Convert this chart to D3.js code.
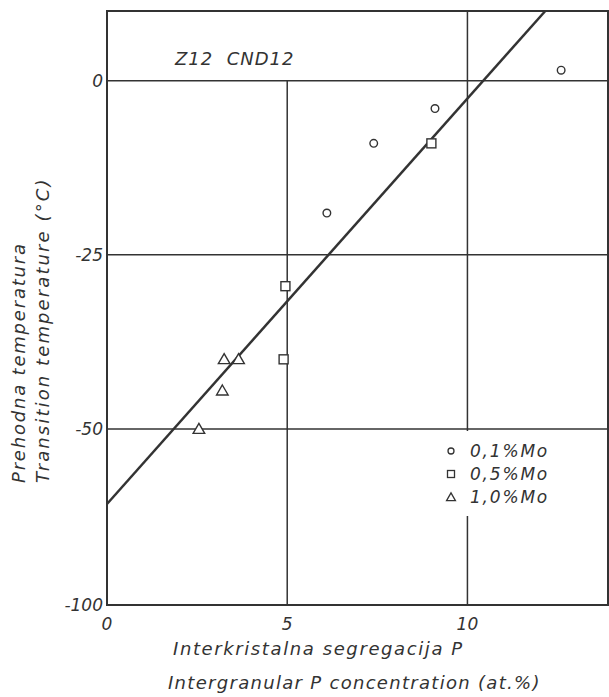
<!DOCTYPE html>
<html>
<head>
<meta charset="utf-8">
<script src="https://cdn.jsdelivr.net/npm/d3@7"></script>
<style>
  body { margin: 0; background: #fff; }
  text { font-family: "DejaVu Sans", sans-serif; font-style: italic; fill: #333; }
</style>
</head>
<body>
<script>
// data
var mo01 = [[12.6, 1.5], [9.1, -4], [7.4, -9], [6.1, -19]];
var mo05 = [[9.0, -9], [4.95, -29.5], [4.9, -40]];
var mo10 = [[3.25, -40], [3.65, -40], [3.2, -44.5], [2.55, -50]];
var fitLine = [[0, -71.3], [12.16, 10]];
var xTicks = [0, 5, 10];
var yTicks = [0, -25, -50, -100];
var legendLabels = ["0,1%Mo", "0,5%Mo", "1,0%Mo"];

var W = 609, H = 697;
var ink = "#333";

var svg = d3.select("body").append("svg")
  .attr("width", W)
  .attr("height", H);

// x: 0 at 107, 10 at 468
var xScale = d3.scaleLinear().domain([0, 13.9]).range([107, 608]);
// y axis in the figure is squeezed below -50 (-100 sits where -75 would be)
var yScale = d3.scaleLinear().domain([-100, -50, 10]).range([605, 429, 11]);

// grid
svg.selectAll("line.hgrid")
  .data([0, -25, -50])
  .enter().append("line")
  .attr("x1", xScale(0)).attr("x2", xScale(13.9))
  .attr("y1", function (d) { return yScale(d); })
  .attr("y2", function (d) { return yScale(d); })
  .attr("stroke", ink).attr("stroke-width", 1.5);

svg.append("line")
  .attr("x1", xScale(5)).attr("x2", xScale(5))
  .attr("y1", yScale(0)).attr("y2", yScale(-100))
  .attr("stroke", ink).attr("stroke-width", 1.5);

svg.append("line")
  .attr("x1", xScale(10)).attr("x2", xScale(10))
  .attr("y1", yScale(10)).attr("y2", yScale(-100))
  .attr("stroke", ink).attr("stroke-width", 1.5);

// frame
svg.append("rect")
  .attr("x", xScale(0)).attr("y", yScale(10))
  .attr("width", xScale(13.9) - xScale(0))
  .attr("height", yScale(-100) - yScale(10))
  .attr("fill", "none").attr("stroke", ink).attr("stroke-width", 2);

// tick labels
svg.selectAll("text.ytick")
  .data(yTicks)
  .enter().append("text")
  .attr("x", 103)
  .attr("y", function (d) { return yScale(d) + 6; })
  .attr("text-anchor", "end")
  .attr("font-size", 17)
  .text(function (d) { return d; });

svg.selectAll("text.xtick")
  .data(xTicks)
  .enter().append("text")
  .attr("x", function (d) { return xScale(d); })
  .attr("y", 630)
  .attr("text-anchor", "middle")
  .attr("font-size", 17)
  .text(function (d) { return d; });

// regression line
svg.append("path")
  .datum(fitLine)
  .attr("d", d3.line()
    .x(function (d) { return xScale(d[0]); })
    .y(function (d) { return yScale(d[1]); }))
  .attr("fill", "none").attr("stroke", ink).attr("stroke-width", 2.5);

// markers
var tri = d3.symbol().type(d3.symbolTriangle).size(58);

svg.selectAll("circle.m01")
  .data(mo01)
  .enter().append("circle")
  .attr("cx", function (d) { return xScale(d[0]); })
  .attr("cy", function (d) { return yScale(d[1]); })
  .attr("r", 3.8)
  .attr("fill", "#fff").attr("stroke", ink).attr("stroke-width", 1.4);

svg.selectAll("rect.m05")
  .data(mo05)
  .enter().append("rect")
  .attr("x", function (d) { return xScale(d[0]) - 4.5; })
  .attr("y", function (d) { return yScale(d[1]) - 4.5; })
  .attr("width", 9).attr("height", 9)
  .attr("fill", "#fff").attr("stroke", ink).attr("stroke-width", 1.4);

svg.selectAll("path.m10")
  .data(mo10)
  .enter().append("path")
  .attr("d", tri)
  .attr("transform", function (d) {
    return "translate(" + xScale(d[0]) + "," + (yScale(d[1]) + 1) + ")";
  })
  .attr("fill", "#fff").attr("stroke", ink).attr("stroke-width", 1.4);

// header text
svg.append("text")
  .attr("x", 175).attr("y", 65)
  .attr("font-size", 18)
  .attr("letter-spacing", 1)
  .attr("xml:space", "preserve")
  .text("Z12  CND12");

// legend (white box hides the 10 gridline behind it)
svg.append("rect")
  .attr("x", 440).attr("y", 431)
  .attr("width", 125).attr("height", 85)
  .attr("fill", "#fff");

var legend = svg.append("g");
var ly = [451, 474, 497];

legend.append("circle")
  .attr("cx", 451).attr("cy", ly[0])
  .attr("r", 3).attr("fill", "#fff").attr("stroke", ink).attr("stroke-width", 1.3);
legend.append("rect")
  .attr("x", 447.5).attr("y", ly[1] - 3.5).attr("width", 7).attr("height", 7)
  .attr("fill", "#fff").attr("stroke", ink).attr("stroke-width", 1.3);
legend.append("path")
  .attr("d", d3.symbol().type(d3.symbolTriangle).size(34))
  .attr("transform", "translate(451," + (ly[2] + 1) + ")")
  .attr("fill", "#fff").attr("stroke", ink).attr("stroke-width", 1.3);

legend.selectAll("text")
  .data(legendLabels)
  .enter().append("text")
  .attr("x", 470)
  .attr("y", function (d, i) { return ly[i] + 6; })
  .attr("font-size", 17)
  .attr("letter-spacing", 1.8)
  .text(function (d) { return d; });

// axis titles
svg.append("text")
  .attr("x", 173).attr("y", 655)
  .attr("font-size", 18)
  .attr("letter-spacing", 1.6)
  .text("Interkristalna segregacija P");

svg.append("text")
  .attr("x", 168).attr("y", 689)
  .attr("font-size", 18)
  .attr("letter-spacing", 1.3)
  .text("Intergranular P concentration (at.%)");

svg.append("text")
  .attr("transform", "translate(25,483) rotate(-90)")
  .attr("font-size", 18)
  .attr("letter-spacing", 1.8)
  .text("Prehodna temperatura");

svg.append("text")
  .attr("transform", "translate(49,483) rotate(-90)")
  .attr("font-size", 18)
  .attr("letter-spacing", 2.1)
  .text("Transition temperature (°C)");
</script>
</body>
</html>
